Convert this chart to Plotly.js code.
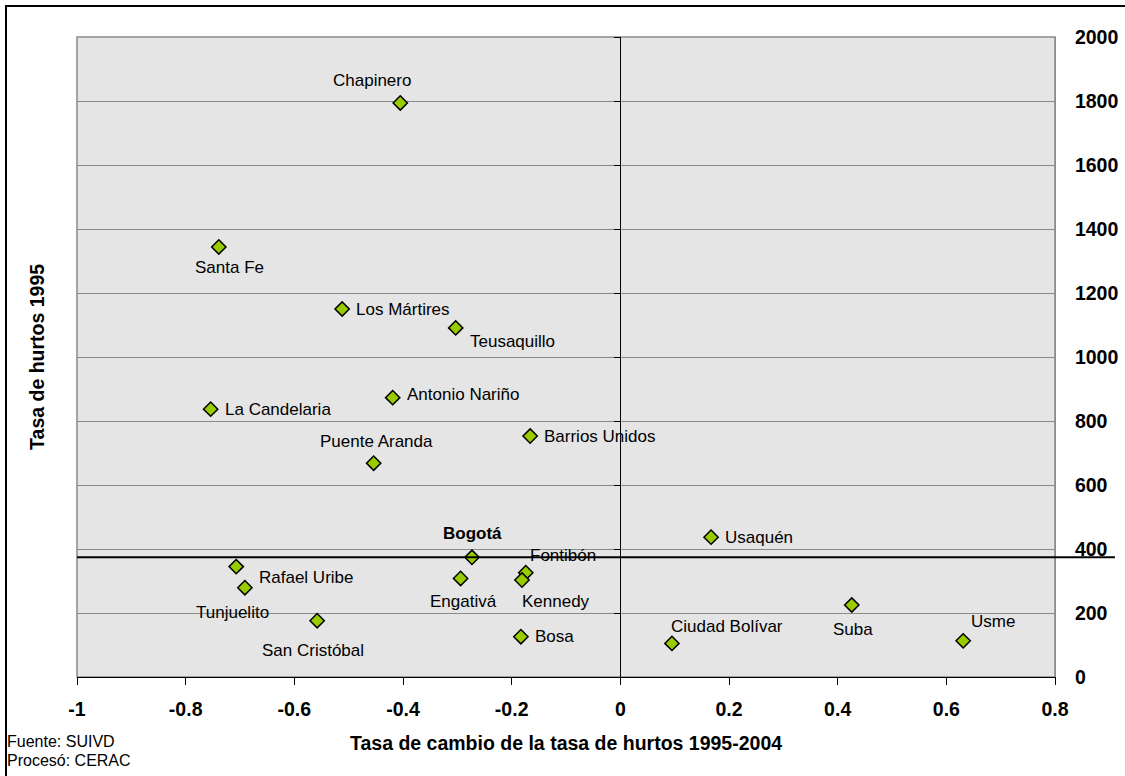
<!DOCTYPE html>
<html>
<head>
<meta charset="utf-8">
<script src="https://cdn.plot.ly/plotly-3.0.1.min.js"></script>
<style>
html,body{margin:0;padding:0;background:#fff;}
#wrap{position:relative;width:1125px;height:776px;}
#chart{position:absolute;left:0;top:0;width:1125px;height:776px;}
#frame{position:absolute;left:5px;top:5px;width:1130px;height:790px;border-left:2px solid #000;border-top:2px solid #000;pointer-events:none;}
</style>
</head>
<body>
<div id="wrap"><div id="chart"></div><div id="frame"></div></div>
<script>
// ---- data ----
const localidades = ["Chapinero","Santa Fe","Los Mártires","Teusaquillo","Antonio Nariño","La Candelaria",
  "Barrios Unidos","Puente Aranda","Usaquén","Bogotá","Fontibón","Kennedy","Engativá","Bosa",
  "Ciudad Bolívar","Rafael Uribe","Tunjuelito","San Cristóbal","Suba","Usme"];
const tasaCambio = [-0.405,-0.739,-0.512,-0.303,-0.419,-0.754,-0.166,-0.454,0.167,-0.273,-0.174,-0.181,-0.294,-0.183,0.095,-0.707,-0.691,-0.558,0.426,0.631];
const tasa1995 = [1794,1344,1150,1091,873,837,753,668,437,374,326,303,308,126,105,345,279,176,225,113];
const xTickVals = [-1,-0.8,-0.6,-0.4,-0.2,0,0.2,0.4,0.6,0.8];
const xTickText = ["-1","-0.8","-0.6","-0.4","-0.2","0","0.2","0.4","0.6","0.8"];
const yTickVals = [0,200,400,600,800,1000,1200,1400,1600,1800,2000];
const yTickText = ["0","200","400","600","800","1000","1200","1400","1600","1800","2000"];
const xTitle = "Tasa de cambio de la tasa de hurtos 1995-2004";
const yTitle = "Tasa de hurtos 1995";
const fuente = "Fuente: SUIVD";
const proceso = "Procesó: CERAC";
const referencia = "Bogotá";

// ---- label placement (style, not data) ----
const labelPos = {
  "Chapinero":{xa:"center",dx:-28,dy:22},
  "Santa Fe":{xa:"center",dx:11,dy:-21},
  "Los Mártires":{xa:"left",dx:12,dy:0},
  "Teusaquillo":{xa:"left",dx:12,dy:-14},
  "Antonio Nariño":{xa:"left",dx:12,dy:3},
  "La Candelaria":{xa:"left",dx:12,dy:0},
  "Barrios Unidos":{xa:"left",dx:12,dy:0},
  "Puente Aranda":{xa:"center",dx:3,dy:22},
  "Usaquén":{xa:"left",dx:12,dy:0},
  "Bogotá":{xa:"center",dx:0,dy:24},
  "Fontibón":{xa:"center",dx:37,dy:17},
  "Kennedy":{xa:"center",dx:34,dy:-21},
  "Engativá":{xa:"center",dx:3,dy:-23},
  "Bosa":{xa:"left",dx:12,dy:0},
  "Ciudad Bolívar":{xa:"center",dx:55,dy:17},
  "Rafael Uribe":{xa:"left",dx:21,dy:-11},
  "Tunjuelito":{xa:"center",dx:-12,dy:-25},
  "San Cristóbal":{xa:"center",dx:-4,dy:-30},
  "Suba":{xa:"center",dx:1,dy:-24},
  "Usme":{xa:"center",dx:30,dy:19}
};

const FONT = "Liberation Sans, Arial, sans-serif";
const xMin = xTickVals[0], xMax = xTickVals[xTickVals.length-1];
const bogotaY = tasa1995[localidades.indexOf(referencia)];

const traces = [
  {
    x: tasaCambio, y: tasa1995, type: "scatter", mode: "markers",
    marker: {symbol: "diamond", size: 11, color: "#99cc00", line: {color: "#000", width: 1.5}},
    text: localidades, hoverinfo: "text", showlegend: false, cliponaxis: false
  },
  {
    x: tasaCambio, y: tasa1995, type: "scatter", mode: "markers", yaxis: "y2",
    marker: {opacity: 0}, hoverinfo: "skip", showlegend: false
  }
];

const annotations = localidades.map((name, i) => {
  const p = labelPos[name];
  return {
    x: tasaCambio[i], y: tasa1995[i], xref: "x", yref: "y",
    text: name === referencia ? "<b>" + name + "</b>" : name,
    showarrow: false, xanchor: p.xa, yanchor: "middle",
    xshift: p.dx, yshift: p.dy,
    font: {family: FONT, size: 17, color: "#000"}
  };
});
annotations.push(
  {xref: "paper", yref: "paper", x: 0.5, y: -0.103, text: "<b>" + xTitle + "</b>", showarrow: false,
   xanchor: "center", yanchor: "middle", font: {family: FONT, size: 19.5, color: "#000"}},
  {xref: "paper", yref: "paper", x: -0.041, y: 0.5, text: "<b>" + yTitle + "</b>", showarrow: false,
   textangle: -90, xanchor: "center", yanchor: "middle", font: {family: FONT, size: 19.5, color: "#000"}},
  {xref: "paper", yref: "paper", x: -0.0735, y: -0.1, text: fuente, showarrow: false,
   xanchor: "left", yanchor: "middle", font: {family: FONT, size: 16, color: "#000"}},
  {xref: "paper", yref: "paper", x: -0.0735, y: -0.131, text: proceso, showarrow: false,
   xanchor: "left", yanchor: "middle", font: {family: FONT, size: 16, color: "#000"}}
);

const tickFont = {family: FONT, size: 19.5, color: "#000", weight: "bold"};

const layout = {
  width: 1125, height: 776,
  margin: {l: 77, r: 70, t: 37, b: 99, pad: 0},
  paper_bgcolor: "rgba(0,0,0,0)", plot_bgcolor: "#e5e5e5",
  font: {family: FONT, color: "#000"},
  showlegend: false,
  xaxis: {
    range: [xMin, xMax], tickmode: "array", tickvals: xTickVals, ticktext: xTickText,
    showgrid: false, zeroline: false, showline: true, linecolor: "#000", linewidth: 1,
    ticks: "outside", ticklen: 7, tickcolor: "#000", tickwidth: 1,
    tickfont: tickFont, ticklabelstandoff: 8, fixedrange: true
  },
  yaxis: {
    range: [0, 2000], tickmode: "array", tickvals: yTickVals, ticktext: yTickText, side: "right",
    showgrid: true, gridcolor: "#8a8a8a", gridwidth: 1, zeroline: false,
    showline: true, linecolor: "#8a8a8a", linewidth: 1, ticks: "",
    tickfont: tickFont, ticklabelstandoff: 15, fixedrange: true
  },
  yaxis2: {
    range: [0, 2000], tickmode: "array", tickvals: yTickVals, overlaying: "y", anchor: "free",
    position: (0 - xMin) / (xMax - xMin), side: "left",
    showgrid: false, zeroline: false, showline: true, linecolor: "#000", linewidth: 1,
    ticks: "outside", ticklen: 6, tickcolor: "#000", showticklabels: false, fixedrange: true
  },
  shapes: [
    {type: "rect", xref: "paper", yref: "paper", x0: 0, x1: 1, y0: 0, y1: 1,
     line: {color: "#8a8a8a", width: 1.5}, fillcolor: "rgba(0,0,0,0)", layer: "below"},
    {type: "line", xref: "paper", yref: "y", x0: 0, x1: 1.0613, y0: bogotaY, y1: bogotaY,
     line: {color: "#000", width: 2}, layer: "above"}
  ],
  annotations: annotations
};

Plotly.newPlot("chart", traces, layout, {displayModeBar: false, staticPlot: true});
</script>
</body>
</html>
